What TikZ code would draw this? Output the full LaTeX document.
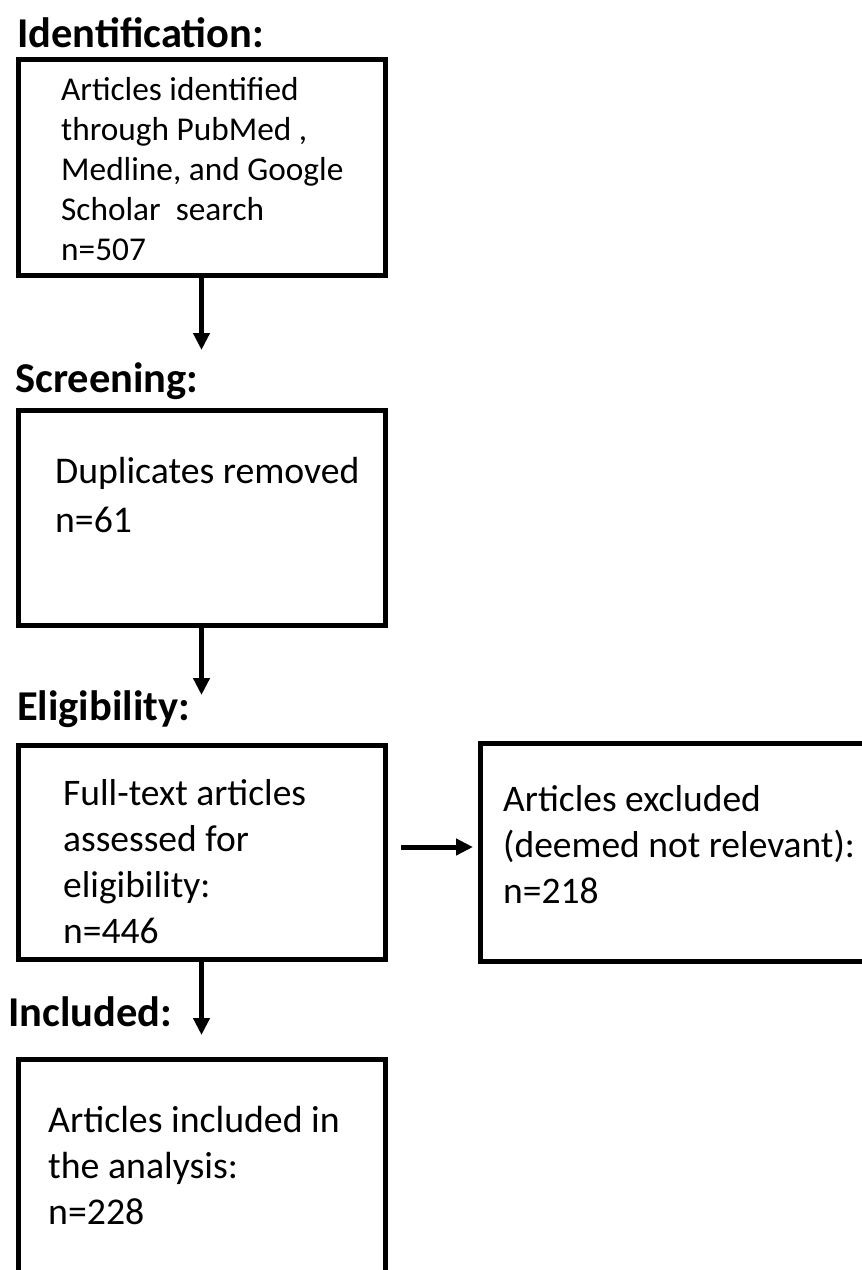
\documentclass[tikz,border=0pt]{standalone}
\usepackage{fontspec}
\setmainfont{Carlito}
\usetikzlibrary{arrows.meta,positioning}

\begin{document}
\begin{tikzpicture}[x=1pt,y=-1pt,
    stage/.style={anchor=base west,inner sep=0pt,font=\bfseries\fontsize{42.5}{50}\selectfont},
    frame/.style={rectangle,draw=black,line width=5pt,minimum width=367pt,inner sep=0pt},
    txt/.style={anchor=north west,inner sep=0pt,align=left},
    line/.style={draw=black,line width=5pt,-{Triangle[length=17pt,width=16pt]}}]
    \useasboundingbox (0,0) rectangle (862,1270);
    \clip (0,0) rectangle (862,1270);
    % stage headings
    \node[stage] (hid) at (17,47) {Identification:};
    \node[stage] (hsc) at (15,392) {Screening:};
    \node[stage] (hel) at (17,720) {Eligibility:};
    \node[stage] (hin) at (8,1026) {Included:};
    % boxes
    \node[frame,minimum height=216pt] (b1) at (201.5,167) {};
    \node[frame,minimum height=215pt] (b2) at (201.5,517.5) {};
    \node[frame,minimum height=214pt] (b3) at (201.5,852) {};
    \node[frame,minimum width=400pt,minimum height=218pt] (b4) at (680,852) {};
    \node[frame,minimum height=232pt] (b5) at (201.5,1175) {};
    % box texts
    \node[txt,font=\fontsize{33.3}{40}\selectfont] (t1) at (61,72) {\strut Articles identified\\through PubMed ,\\Medline, and Google\\Scholar~ search\\n=507};
    \node[txt,font=\fontsize{37.7}{49}\selectfont] (t2) at (55,449) {\strut Duplicates removed\\n=61};
    \node[txt,font=\fontsize{37.5}{46}\selectfont] (t3) at (63,773) {\strut Full-text articles\\assessed for\\eligibility:\\n=446};
    \node[txt,font=\fontsize{37.5}{46}\selectfont] (t4) at (503,779) {\strut Articles excluded\\(deemed not relevant):\\n=218};
    \node[txt,font=\fontsize{37.8}{46}\selectfont] (t5) at (48,1100) {\strut Articles included in\\the analysis:\\n=228};
    % arrows
    \coordinate (e1) at (201.5,350);
    \coordinate (e2) at (201.5,695);
    \coordinate (e3) at (201.5,1035);
    \coordinate (x1) at (401,847);
    \coordinate (x2) at (473,847);
    \path[line] (b1.south) -- (e1);
    \path[line] (b2.south) -- (e2);
    \path[line] (b3.south) -- (e3);
    \path[line] (x1) -- (x2);
\end{tikzpicture}
\end{document}
